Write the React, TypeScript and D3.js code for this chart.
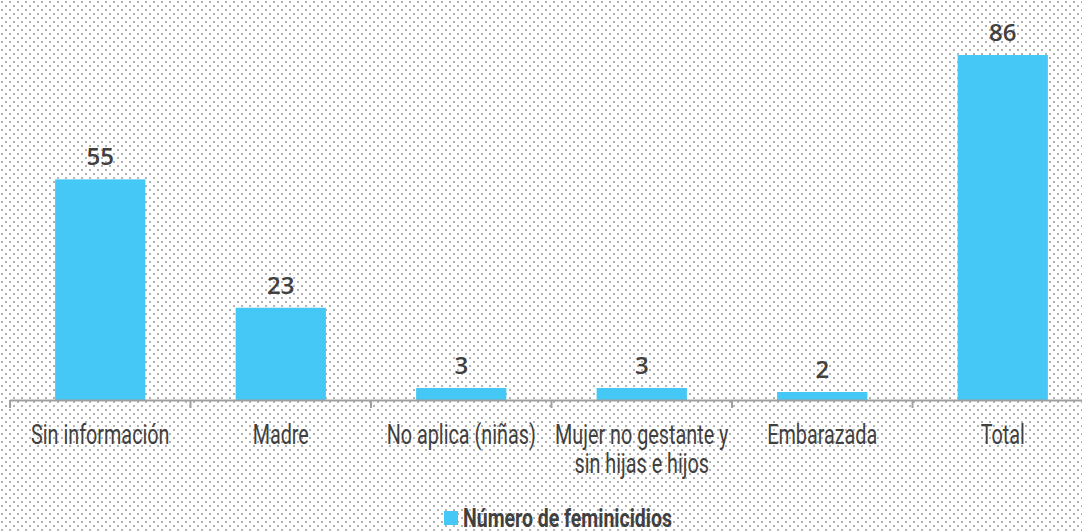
import React from "react";
import * as d3 from "d3";

const categories: string[][] = [
  ["Sin información"],
  ["Madre"],
  ["No aplica (niñas)"],
  ["Mujer no gestante y", "sin hijas e hijos"],
  ["Embarazada"],
  ["Total"],
];
const values: number[] = [55, 23, 3, 3, 2, 86];
const seriesName = "Número de feminicidios";

const W = 1082;
const H = 532;
const color = "#45c8f5";
const textColor = "#404040";
const condensed = "Roboto, 'Liberation Sans', sans-serif";
const squeeze = 0.72;

export default function App() {
  const x = d3
    .scaleBand<number>()
    .domain(d3.range(categories.length))
    .range([10, 10 + 180.5 * categories.length])
    .paddingInner(0.5)
    .paddingOuter(0.25);
  const step = x.step();
  const y = d3.scaleLinear().domain([0, 86]).range([400, 55]);

  return (
    <svg
      width={W}
      height={H}
      style={{ position: "absolute", left: 0, top: 0, display: "block" }}
    >
      <defs>
        <pattern id="dots" width={8} height={8} patternUnits="userSpaceOnUse">
          <rect x={0} y={0} width={8} height={8} fill="#ffffff" />
          <rect x={1} y={1} width={2} height={2} fill="#b3b3b3" />
          <rect x={5} y={5} width={2} height={2} fill="#b3b3b3" />
        </pattern>
      </defs>
      <rect x={0} y={0} width={W} height={H} fill="url(#dots)" />
      {values.map((v, i) => (
        <g key={i}>
          <rect x={x(i)} y={y(v)} width={x.bandwidth()} height={y(0) - y(v)} fill={color} />
          <text
            x={(x(i) as number) + x.bandwidth() / 2}
            y={y(v) - 14}
            textAnchor="middle"
            fontFamily="'Open Sans', sans-serif"
            fontWeight={600}
            fontSize={24}
            fill={textColor}
          >
            {v}
          </text>
        </g>
      ))}
      <line x1={10} x2={10 + step * categories.length} y1={400.5} y2={400.5} stroke="#a0a0a0" strokeWidth={2} />
      {d3.range(categories.length + 1).map((i) => (
        <line key={i} x1={10 + step * i} x2={10 + step * i} y1={400} y2={408} stroke="#a0a0a0" strokeWidth={2} />
      ))}
      {categories.map((lines, i) =>
        lines.map((l, j) => (
          <text
            key={`${i}-${j}`}
            transform={`translate(${(x(i) as number) + x.bandwidth() / 2},0) scale(${squeeze},1)`}
            x={0}
            y={444 + j * 29}
            textAnchor="middle"
            fontFamily={condensed}
            fontSize={27.5}
            fill={textColor}
          >
            {l}
          </text>
        ))
      )}
      <rect x={444} y={511} width={14} height={14} fill={color} />
      <text
        transform={`translate(463,0) scale(0.78,1)`}
        x={0}
        y={527}
        fontFamily={condensed}
        fontWeight="bold"
        fontSize={25}
        fill={textColor}
      >
        {seriesName}
      </text>
    </svg>
  );
}
